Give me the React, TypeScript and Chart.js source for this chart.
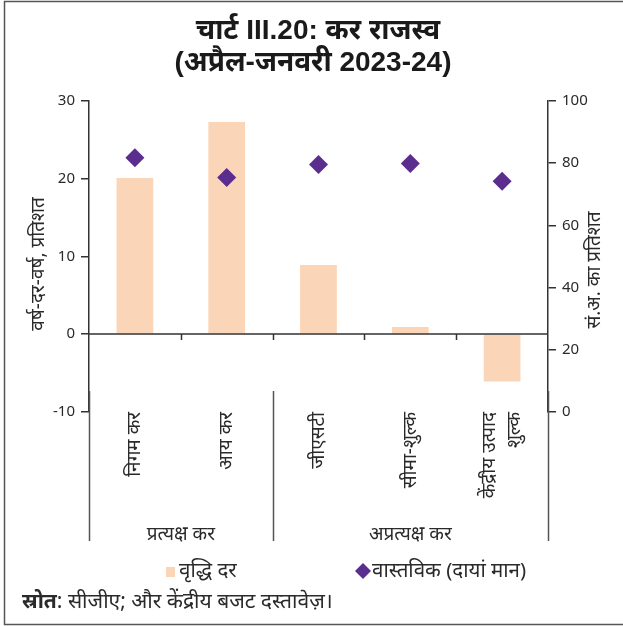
import React, { useEffect, useRef } from "react";
import { Chart, registerables } from "chart.js";
Chart.register(...registerables);

const categoryLabels: string[][] = [["निगम कर"], ["आय कर"], ["जीएसटी"], ["सीमा-शुल्क"], ["केंद्रीय उत्पाद", "शुल्क"]];
const growthRate = [20.1, 27.3, 8.9, 0.9, -6.1];
const actualShare = [81.7, 75.4, 79.6, 79.9, 74.2];
const groupLabels = ["प्रत्यक्ष कर", "अप्रत्यक्ष कर"];
const groupStarts = [0, 2];
const groupEnds = [1, 4];
const leftTicks = [-10, 0, 10, 20, 30];
const rightTicks = [0, 20, 40, 60, 80, 100];
const titleLines = ["चार्ट III.20: कर राजस्व", "(अप्रैल-जनवरी 2023-24)"];
const leftAxisTitle = "वर्ष-दर-वर्ष, प्रतिशत";
const rightAxisTitle = "सं.अ. का प्रतिशत";
const legendBar = "वृद्धि दर";
const legendPoint = "वास्तविक (दायां मान)";
const sourceBold = "स्रोत";
const sourceRest = ": सीजीए; और केंद्रीय बजट दस्तावेज़।";

const BAR = "#FBD5B7";
const PURPLE = "#5B2D8E";
const INK = "#2a2a2a";
const AXIS = "#333333";
const FONT = "'Noto Sans', 'DejaVu Sans', sans-serif";
const TITLE_FONT = "'Liberation Sans', 'Noto Sans', sans-serif";

const W = 623;
const H = 626;

const decor = {
  id: "decor",
  afterDatasetsDraw(chart: any) {
    const ctx = chart.ctx;
    const y = chart.scales.y;
    const area = chart.chartArea;
    const catW = (area.right - area.left) / categoryLabels.length;
    ctx.save();
    const y0 = y.getPixelForValue(0);
    ctx.strokeStyle = AXIS;
    ctx.lineWidth = 1.5;
    ctx.beginPath();
    ctx.moveTo(area.left, y0);
    ctx.lineTo(area.right, y0);
    for (let i = 1; i < categoryLabels.length; i++) {
      const bx = Math.round(area.left + i * catW) + 0.5;
      ctx.moveTo(bx, y0);
      ctx.lineTo(bx, y0 + 6);
    }
    ctx.stroke();
    ctx.restore();
  },
  afterDraw(chart: any) {
    const ctx = chart.ctx;
    const x = chart.scales.x;
    const area = chart.chartArea;
    const catW = (area.right - area.left) / categoryLabels.length;
    ctx.save();

    // frame
    ctx.strokeStyle = "#555";
    ctx.lineWidth = 1.5;
    ctx.strokeRect(4.5, 1.5, W + 20, H - 3);

    // title
    ctx.fillStyle = "#1a1a1a";
    ctx.textAlign = "center";
    ctx.textBaseline = "middle";
    ctx.font = `bold 28px ${TITLE_FONT}`;
    ctx.fillText(titleLines[0], 318, 31);
    ctx.fillText(titleLines[1], 313, 63);

    // separators
    ctx.strokeStyle = "#555";
    ctx.lineWidth = 1.5;
    ctx.beginPath();
    const sepX = [area.left, area.left + groupStarts[1] * catW, area.right];
    sepX.forEach((sx) => {
      const px = Math.round(sx) + 0.5;
      ctx.moveTo(px, 391);
      ctx.lineTo(px, 541);
    });
    ctx.stroke();

    // category labels
    ctx.fillStyle = INK;
    ctx.font = `19px ${FONT}`;
    const lh = 25;
    categoryLabels.forEach((lines, i) => {
      const cx = x.getPixelForValue(i);
      lines.forEach((line, j) => {
        const lx = cx + (j - (lines.length - 1) / 2) * lh;
        ctx.save();
        ctx.translate(lx, 412);
        ctx.rotate(-Math.PI / 2);
        ctx.textAlign = "right";
        ctx.textBaseline = "middle";
        ctx.fillText(line, 0, 0);
        ctx.restore();
      });
    });

    // group labels
    ctx.textAlign = "center";
    ctx.textBaseline = "middle";
    ctx.font = `19px ${FONT}`;
    groupLabels.forEach((g, k) => {
      const gx = area.left + ((groupStarts[k] + groupEnds[k] + 1) / 2) * catW;
      ctx.fillText(g, gx, 535);
    });

    // axis titles
    ctx.save();
    ctx.translate(39, 264);
    ctx.rotate(-Math.PI / 2);
    ctx.fillText(leftAxisTitle, 0, 0);
    ctx.restore();
    ctx.save();
    ctx.translate(595, 270);
    ctx.rotate(-Math.PI / 2);
    ctx.fillText(rightAxisTitle, 0, 0);
    ctx.restore();

    // legend
    ctx.fillStyle = BAR;
    ctx.fillRect(166, 567, 9, 10);
    ctx.fillStyle = INK;
    ctx.font = `20.5px ${FONT}`;
    ctx.textAlign = "left";
    ctx.fillText(legendBar, 179, 571);
    ctx.fillStyle = PURPLE;
    ctx.beginPath();
    ctx.moveTo(363, 563);
    ctx.lineTo(371, 571);
    ctx.lineTo(363, 579);
    ctx.lineTo(355, 571);
    ctx.closePath();
    ctx.fill();
    ctx.fillStyle = INK;
    ctx.fillText(legendPoint, 372, 571);

    // source
    ctx.font = `bold 21px ${FONT}`;
    ctx.fillText(sourceBold, 22, 602);
    const bw = ctx.measureText(sourceBold).width;
    ctx.font = `21px ${FONT}`;
    ctx.fillText(sourceRest, 22 + bw, 602);

    ctx.restore();
  },
};

export default function App() {
  const ref = useRef<HTMLCanvasElement>(null);
  useEffect(() => {
    if (!ref.current) return;
    const chart = new Chart(ref.current, {
      type: "bar",
      data: {
        labels: categoryLabels.map((l) => l.join(" ")),
        datasets: [
          {
            type: "line",
            label: legendPoint,
            data: actualShare,
            yAxisID: "y1",
            showLine: false,
            pointStyle: "rectRot",
            pointRadius: 9.5,
            pointBackgroundColor: PURPLE,
            pointBorderColor: PURPLE,
            pointBorderWidth: 0,
            order: 0,
          } as any,
          {
            type: "bar",
            label: legendBar,
            data: growthRate,
            yAxisID: "y",
            backgroundColor: BAR,
            borderWidth: 0,
            barPercentage: 0.4,
            categoryPercentage: 1,
            order: 1,
          },
        ],
      },
      plugins: [decor],
      options: {
        responsive: false,
        animation: false,
        layout: { padding: { top: 101, left: 0, right: 0, bottom: 0 } },
        plugins: { legend: { display: false }, tooltip: { enabled: false }, title: { display: false } },
        scales: {
          x: {
            grid: { display: false },
            border: { display: false },
            ticks: { display: false },
            afterFit: (s: any) => {
              s.height = H - 411.7;
            },
          },
          y: {
            position: "left",
            min: -10,
            max: 30,
            afterBuildTicks: (s: any) => {
              s.ticks = leftTicks.map((v) => ({ value: v }));
            },
            grid: { drawOnChartArea: false, drawTicks: true, tickLength: 8, color: AXIS, lineWidth: 1.5 },
            border: { display: true, color: AXIS, width: 1.5 },
            ticks: { color: INK, font: { family: FONT, size: 15 }, padding: 6 },
            afterFit: (s: any) => {
              s.width = 89;
            },
          },
          y1: {
            position: "right",
            min: 0,
            max: 100,
            afterBuildTicks: (s: any) => {
              s.ticks = rightTicks.map((v) => ({ value: v }));
            },
            grid: { drawOnChartArea: false, drawTicks: true, tickLength: 8, color: AXIS, lineWidth: 1.5 },
            border: { display: true, color: AXIS, width: 1.5 },
            ticks: { color: INK, font: { family: FONT, size: 15 }, padding: 6 },
            afterFit: (s: any) => {
              s.width = W - 548;
            },
          },
        },
      } as any,
    });
    return () => chart.destroy();
  }, []);
  return (
    <div style={{ position: "absolute", left: 0, top: 0, width: W, height: H, background: "#fff" }}>
      <canvas ref={ref} width={W} height={H} style={{ display: "block" }} />
    </div>
  );
}
